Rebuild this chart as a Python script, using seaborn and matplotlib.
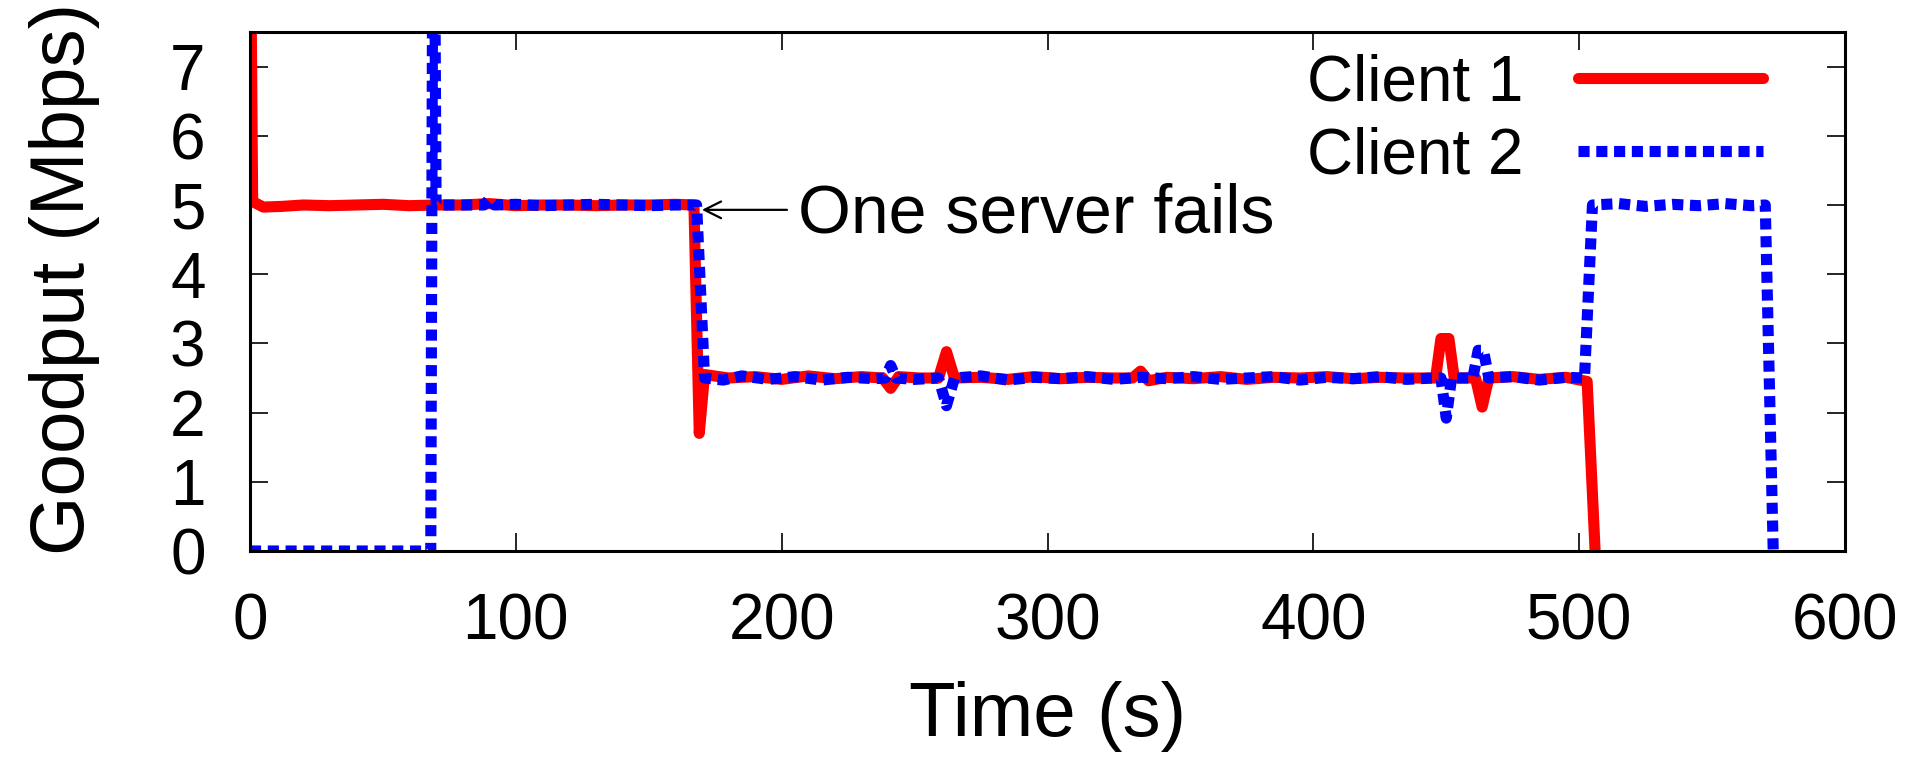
import numpy as np
import pandas as pd
import seaborn as sns
import matplotlib
matplotlib.use("Agg")
import matplotlib.pyplot as plt

# Client 1 goodput (Mbps)
client1_time = [0, 1, 5, 12, 20, 30, 40, 50, 60, 70, 80, 90, 100, 110, 120, 130,
                140, 150, 160, 167, 169, 171, 180, 190, 200, 210, 220, 230, 238,
                241, 244, 252, 259, 262, 265, 275, 285, 295, 305, 315, 325, 332,
                335, 338, 345, 355, 365, 375, 385, 395, 405, 415, 425, 435, 446,
                448, 451, 453, 461, 463.5, 466, 475, 485, 495, 503, 506]
client1_goodput = [10.0, 5.05, 4.97, 4.98, 5.0, 4.99, 5.0, 5.01, 4.99, 5.0, 5.0,
                   5.02, 4.99, 5.0, 5.0, 4.99, 5.0, 5.0, 5.01, 5.0, 1.7, 2.55,
                   2.5, 2.52, 2.48, 2.53, 2.49, 2.52, 2.5, 2.35, 2.52, 2.5, 2.5,
                   2.88, 2.5, 2.51, 2.48, 2.52, 2.49, 2.51, 2.5, 2.5, 2.6, 2.46,
                   2.51, 2.49, 2.52, 2.48, 2.51, 2.5, 2.52, 2.49, 2.51, 2.5, 2.5,
                   3.07, 3.07, 2.5, 2.5, 2.08, 2.5, 2.52, 2.48, 2.51, 2.45, 0.0]

# Client 2 goodput (Mbps)
client2_time = [0, 20, 40, 60, 68, 69, 70, 80, 88, 90, 92, 100, 110, 120, 130,
                140, 150, 160, 168, 171, 178, 185, 195, 205, 215, 225, 235, 239,
                241, 243, 250, 259, 262, 265, 275, 285, 295, 305, 315, 325, 335,
                345, 355, 365, 375, 385, 395, 405, 415, 425, 435, 445, 448, 450,
                452, 460, 462, 464, 466, 475, 485, 495, 502, 505, 515, 525, 535,
                545, 555, 565, 570, 573]
client2_goodput = [0.0, 0.0, 0.0, 0.0, 0.0, 12.0, 5.0, 5.0, 5.0, 5.08, 5.0, 5.01,
                   4.99, 5.0, 5.01, 5.0, 4.99, 5.0, 5.0, 2.5, 2.47, 2.53, 2.48,
                   2.52, 2.47, 2.51, 2.49, 2.5, 2.68, 2.5, 2.48, 2.5, 2.1, 2.5,
                   2.53, 2.47, 2.51, 2.49, 2.52, 2.48, 2.51, 2.49, 2.52, 2.48,
                   2.5, 2.52, 2.47, 2.51, 2.49, 2.52, 2.48, 2.5, 2.5, 1.92, 2.5,
                   2.5, 2.9, 2.9, 2.5, 2.52, 2.47, 2.51, 2.5, 5.0, 5.02, 4.98,
                   5.01, 4.99, 5.02, 4.99, 5.0, 0.0]

x_ticks = [0, 100, 200, 300, 400, 500, 600]
y_ticks = [0, 1, 2, 3, 4, 5, 6, 7]

sns.set_theme(style="ticks")
plt.rcParams["font.family"] = ["Liberation Sans", "DejaVu Sans"]
plt.rcParams["text.color"] = "black"
plt.rcParams["axes.labelcolor"] = "black"
FS = 46       # tick labels and legend
LABEL_FS = 55  # axis titles

df1 = pd.DataFrame({"time": client1_time, "goodput": client1_goodput})
df2 = pd.DataFrame({"time": client2_time, "goodput": client2_goodput})

fig = plt.figure(figsize=(19.32, 7.65), dpi=100)
ax = fig.add_axes([250 / 1932, 1 - 551 / 765, 1595 / 1932, 519 / 765])

sns.lineplot(data=df1, x="time", y="goodput", ax=ax, color="#ff0000",
             linewidth=8, label="Client 1", estimator=None, sort=False)
sns.lineplot(data=df2, x="time", y="goodput", ax=ax, color="#0000ff",
             linewidth=8, label="Client 2", estimator=None, sort=False)
blue_line = ax.lines[1]
blue_line.set_dashes((1.0, 0.6))
blue_line.set_dash_capstyle("butt")
blue_line.set_solid_joinstyle("miter")

ax.set_xlim(0, 600)
ax.set_ylim(0, 7.5)
ax.set_xticks(x_ticks)
ax.set_yticks(y_ticks)
ax.tick_params(direction="in", length=13, width=1.2, top=True, right=True,
               labelsize=FS, colors="black")
ax.tick_params(axis="x", pad=30)
ax.tick_params(axis="y", pad=32)
for side in ax.spines.values():
    side.set_linewidth(2.2)
    side.set_color("black")

ax.set_xlabel("Time (s)", fontsize=LABEL_FS)
ax.set_ylabel("Goodput (Mbps)", fontsize=LABEL_FS)
ax.xaxis.set_label_coords(0.5, -0.25)
ax.yaxis.set_label_coords(-0.094, 0.524)
ax.xaxis.label.set_va("top")

# annotation of the failure
ax.annotate("", xy=(170, 4.93), xytext=(202, 4.93),
            arrowprops=dict(arrowstyle="->", lw=1.6, color="black",
                            shrinkA=0, shrinkB=0, mutation_scale=30))
ax.text(206, 4.6, "One server fails", fontsize=49, va="baseline", ha="left")

ax.legend(loc="upper right", bbox_to_anchor=(0.9486, 0.958), frameon=False,
          markerfirst=False, handlelength=2.9, handletextpad=0.85,
          labelspacing=0.2, borderpad=0, borderaxespad=0, fontsize=FS)

fig.savefig("out.png", dpi=100)
